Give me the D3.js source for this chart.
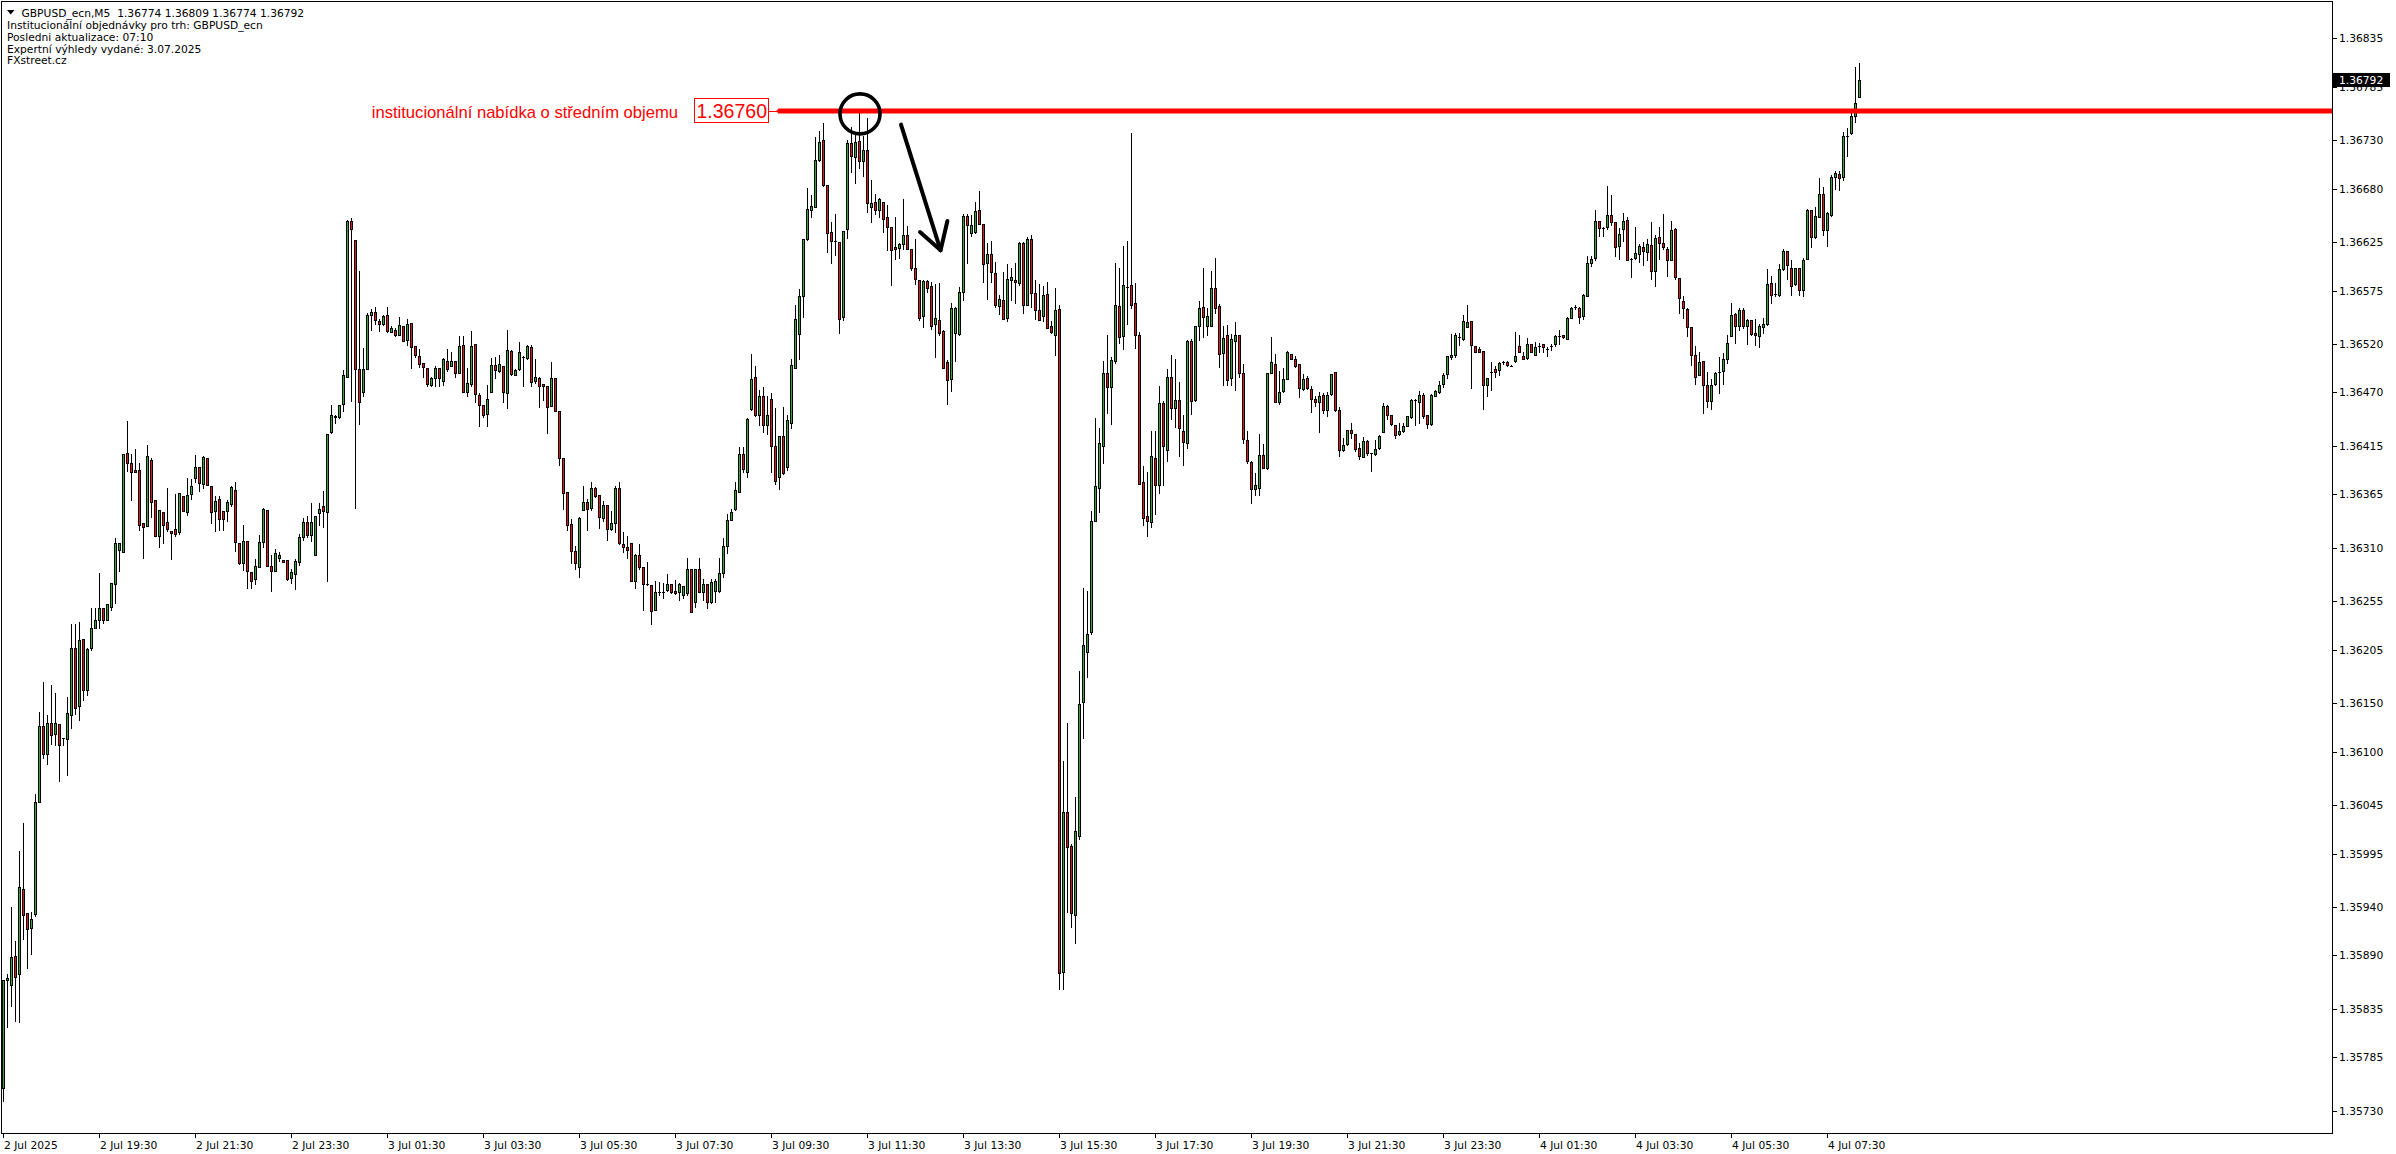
<!DOCTYPE html>
<html><head><meta charset="utf-8">
<script src="https://cdn.jsdelivr.net/npm/d3@7"></script>
<style>
html,body{margin:0;padding:0;background:#fff;overflow:hidden}
svg{display:block}
</style>
</head><body>
<svg id="chart" width="2396" height="1154"></svg>
<script>
// ---- data (M5 bars, GBPUSD) ----
const opens=[
1.35753,1.35865,1.35860,1.35889,1.35871,1.35958,1.35934,1.35918,1.35933,1.36048,
1.36126,1.36098,1.36129,1.36118,1.36128,1.36114,1.36113,1.36138,1.36207,1.36147,
1.36216,1.36163,1.36207,1.36227,1.36236,1.36248,1.36236,1.36249,1.36273,1.36308,
1.36306,1.36408,1.36397,1.36390,1.36390,1.36336,1.36332,1.36400,1.36359,1.36322,
1.36347,1.36337,1.36327,1.36329,1.36326,1.36363,1.36347,1.36365,1.36382,1.36393,
1.36376,1.36403,1.36374,1.36348,1.36360,1.36348,1.36348,1.36355,1.36370,1.36315,
1.36294,1.36317,1.36285,1.36278,1.36290,1.36316,1.36349,1.36291,1.36286,1.36300,
1.36297,1.36297,1.36279,1.36283,1.36295,1.36321,1.36337,1.36323,1.36303,1.36346,
1.36353,1.36347,1.36429,1.36445,1.36445,1.36458,1.36486,1.36647,1.36627,1.36494,
1.36470,1.36494,1.36550,1.36553,1.36544,1.36541,1.36550,1.36532,1.36534,1.36529,
1.36539,1.36524,1.36542,1.36518,1.36508,1.36500,1.36495,1.36478,1.36485,1.36495,
1.36482,1.36502,1.36497,1.36502,1.36490,1.36519,1.36471,1.36479,1.36520,1.36467,
1.36457,1.36448,1.36470,1.36498,1.36492,1.36497,1.36469,1.36513,1.36488,1.36494,
1.36507,1.36506,1.36517,1.36482,1.36485,1.36479,1.36477,1.36456,1.36485,1.36451,
1.36403,1.36367,1.36335,1.36307,1.36290,1.36349,1.36357,1.36351,1.36372,1.36364,
1.36341,1.36354,1.36329,1.36336,1.36372,1.36314,1.36311,1.36315,1.36276,1.36303,
1.36290,1.36273,1.36272,1.36246,1.36264,1.36264,1.36267,1.36273,1.36265,1.36264,
1.36261,1.36263,1.36288,1.36254,1.36288,1.36264,1.36273,1.36254,1.36266,1.36266,
1.36284,1.36312,1.36339,1.36350,1.36368,1.36407,1.36388,1.36453,1.36486,1.36447,
1.36466,1.36437,1.36463,1.36415,1.36383,1.36425,1.36393,1.36439,1.36495,1.36530,
1.36569,1.36628,1.36658,1.36661,1.36710,1.36730,1.36684,1.36635,1.36626,1.36625,
1.36548,1.36638,1.36727,1.36713,1.36729,1.36708,1.36720,1.36661,1.36666,1.36658,
1.36666,1.36651,1.36640,1.36620,1.36619,1.36623,1.36632,1.36618,1.36598,1.36586,
1.36549,1.36585,1.36580,1.36541,1.36545,1.36533,1.36501,1.36484,1.36531,1.36530,
1.36574,1.36652,1.36634,1.36635,1.36658,1.36644,1.36603,1.36613,1.36593,1.36559,
1.36565,1.36547,1.36586,1.36586,1.36583,1.36624,1.36560,1.36628,1.36573,1.36555,
1.36549,1.36571,1.36538,1.36529,1.36556,1.35873,1.36038,1.36003,1.35932,1.36013,
1.36151,1.36203,1.36223,1.36338,1.36372,1.36415,1.36490,1.36476,1.36502,1.36559,
1.36528,1.36579,1.36581,1.36562,1.36529,1.36378,1.36343,1.36337,1.36403,1.36375,
1.36459,1.36411,1.36486,1.36454,1.36462,1.36430,1.36418,1.36523,1.36462,1.36538,
1.36558,1.36539,1.36539,1.36578,1.36559,1.36511,1.36529,1.36485,1.36523,1.36529,
1.36490,1.36421,1.36398,1.36371,1.36372,1.36406,1.36392,1.36490,1.36499,1.36460,
1.36472,1.36484,1.36510,1.36505,1.36499,1.36474,1.36485,1.36474,1.36463,1.36460,
1.36467,1.36452,1.36468,1.36491,1.36452,1.36411,1.36417,1.36431,1.36427,1.36413,
1.36404,1.36420,1.36408,1.36407,1.36413,1.36429,1.36456,1.36447,1.36437,1.36427,
1.36430,1.36436,1.36445,1.36462,1.36460,1.36467,1.36447,1.36438,1.36466,1.36470,
1.36479,1.36489,1.36507,1.36509,1.36527,1.36525,1.36537,1.36544,1.36518,1.36515,
1.36513,1.36478,1.36491,1.36494,1.36493,1.36501,1.36501,1.36497,1.36502,1.36518,
1.36508,1.36506,1.36520,1.36509,1.36518,1.36520,1.36515,1.36518,1.36520,1.36528,
1.36529,1.36525,1.36547,1.36558,1.36557,1.36549,1.36569,1.36603,1.36609,1.36647,
1.36639,1.36640,1.36653,1.36646,1.36621,1.36638,1.36648,1.36608,1.36609,1.36613,
1.36620,1.36615,1.36622,1.36595,1.36630,1.36624,1.36618,1.36607,1.36638,1.36588,
1.36564,1.36556,1.36537,1.36509,1.36488,1.36502,1.36478,1.36461,1.36479,1.36491,
1.36492,1.36504,1.36528,1.36551,1.36539,1.36555,1.36538,1.36545,1.36531,1.36528,
1.36537,1.36541,1.36583,1.36571,1.36570,1.36597,1.36616,1.36598,1.36582,1.36598,
1.36576,1.36608,1.36658,1.36630,1.36651,1.36674,1.36637,1.36653,1.36692,1.36695,
1.36692,1.36734,1.36737,1.36755,1.36774];
const highs=[
1.35865,1.35871,1.35940,1.35905,1.35998,1.36027,1.35934,1.35935,1.36056,1.36141,
1.36172,1.36138,1.36169,1.36160,1.36128,1.36114,1.36156,1.36231,1.36231,1.36234,
1.36216,1.36207,1.36248,1.36248,1.36284,1.36248,1.36252,1.36274,1.36320,1.36315,
1.36407,1.36441,1.36407,1.36412,1.36397,1.36336,1.36416,1.36403,1.36359,1.36349,
1.36347,1.36372,1.36327,1.36365,1.36366,1.36363,1.36382,1.36381,1.36406,1.36393,
1.36405,1.36403,1.36374,1.36363,1.36363,1.36348,1.36359,1.36374,1.36378,1.36315,
1.36333,1.36317,1.36285,1.36298,1.36323,1.36351,1.36349,1.36303,1.36309,1.36306,
1.36297,1.36297,1.36288,1.36298,1.36324,1.36341,1.36343,1.36356,1.36343,1.36356,
1.36369,1.36427,1.36457,1.36447,1.36457,1.36493,1.36648,1.36650,1.36627,1.36595,
1.36516,1.36552,1.36556,1.36558,1.36546,1.36550,1.36558,1.36538,1.36536,1.36548,
1.36539,1.36546,1.36542,1.36518,1.36515,1.36500,1.36495,1.36486,1.36497,1.36495,
1.36506,1.36515,1.36512,1.36502,1.36528,1.36528,1.36495,1.36533,1.36520,1.36469,
1.36457,1.36478,1.36506,1.36507,1.36509,1.36497,1.36534,1.36514,1.36494,1.36522,
1.36508,1.36519,1.36519,1.36504,1.36486,1.36479,1.36477,1.36501,1.36485,1.36451,
1.36403,1.36367,1.36340,1.36312,1.36342,1.36374,1.36360,1.36378,1.36373,1.36364,
1.36358,1.36354,1.36348,1.36374,1.36378,1.36326,1.36322,1.36315,1.36304,1.36314,
1.36290,1.36295,1.36272,1.36276,1.36275,1.36274,1.36283,1.36273,1.36277,1.36274,
1.36271,1.36299,1.36288,1.36288,1.36299,1.36278,1.36273,1.36278,1.36278,1.36299,
1.36320,1.36345,1.36350,1.36378,1.36414,1.36414,1.36444,1.36510,1.36497,1.36473,
1.36476,1.36466,1.36469,1.36454,1.36425,1.36455,1.36447,1.36505,1.36560,1.36577,
1.36628,1.36681,1.36673,1.36733,1.36739,1.36748,1.36684,1.36646,1.36654,1.36625,
1.36636,1.36730,1.36744,1.36735,1.36758,1.36734,1.36753,1.36689,1.36674,1.36670,
1.36666,1.36663,1.36640,1.36651,1.36624,1.36669,1.36642,1.36618,1.36628,1.36586,
1.36586,1.36586,1.36584,1.36582,1.36583,1.36534,1.36503,1.36562,1.36558,1.36579,
1.36654,1.36654,1.36653,1.36666,1.36678,1.36644,1.36624,1.36626,1.36604,1.36570,
1.36594,1.36602,1.36598,1.36603,1.36625,1.36625,1.36630,1.36632,1.36586,1.36582,
1.36580,1.36584,1.36544,1.36578,1.36560,1.36090,1.36129,1.36005,1.36053,1.36183,
1.36269,1.36266,1.36348,1.36444,1.36433,1.36502,1.36529,1.36507,1.36603,1.36598,
1.36621,1.36626,1.36737,1.36583,1.36532,1.36394,1.36388,1.36430,1.36430,1.36477,
1.36461,1.36494,1.36509,1.36504,1.36481,1.36447,1.36524,1.36525,1.36538,1.36564,
1.36598,1.36557,1.36595,1.36609,1.36561,1.36539,1.36540,1.36530,1.36543,1.36529,
1.36499,1.36430,1.36399,1.36387,1.36427,1.36417,1.36490,1.36527,1.36510,1.36492,
1.36495,1.36513,1.36510,1.36508,1.36499,1.36489,1.36487,1.36477,1.36466,1.36470,
1.36469,1.36470,1.36489,1.36491,1.36455,1.36423,1.36431,1.36439,1.36427,1.36418,
1.36424,1.36421,1.36408,1.36421,1.36426,1.36459,1.36457,1.36447,1.36437,1.36439,
1.36439,1.36446,1.36463,1.36463,1.36472,1.36469,1.36447,1.36468,1.36473,1.36482,
1.36490,1.36508,1.36530,1.36531,1.36531,1.36550,1.36560,1.36544,1.36518,1.36517,
1.36513,1.36485,1.36501,1.36497,1.36501,1.36502,1.36502,1.36498,1.36532,1.36529,
1.36512,1.36526,1.36520,1.36522,1.36521,1.36520,1.36517,1.36520,1.36529,1.36534,
1.36529,1.36548,1.36558,1.36560,1.36558,1.36571,1.36611,1.36611,1.36658,1.36647,
1.36641,1.36683,1.36673,1.36646,1.36639,1.36655,1.36651,1.36609,1.36641,1.36623,
1.36625,1.36628,1.36646,1.36632,1.36641,1.36654,1.36620,1.36647,1.36639,1.36588,
1.36569,1.36557,1.36537,1.36518,1.36512,1.36502,1.36491,1.36484,1.36491,1.36507,
1.36511,1.36529,1.36562,1.36552,1.36557,1.36557,1.36546,1.36545,1.36546,1.36541,
1.36547,1.36597,1.36590,1.36583,1.36602,1.36618,1.36616,1.36607,1.36598,1.36598,
1.36609,1.36659,1.36658,1.36661,1.36691,1.36682,1.36656,1.36694,1.36698,1.36698,
1.36738,1.36742,1.36761,1.36805,1.36809];
const lows=[
1.35740,1.35816,1.35838,1.35823,1.35821,1.35907,1.35877,1.35892,1.35931,1.36048,
1.36093,1.36087,1.36108,1.36107,1.36070,1.36107,1.36076,1.36124,1.36139,1.36133,
1.36153,1.36158,1.36205,1.36227,1.36227,1.36233,1.36236,1.36246,1.36253,1.36286,
1.36306,1.36389,1.36359,1.36388,1.36328,1.36300,1.36332,1.36342,1.36322,1.36311,
1.36315,1.36327,1.36298,1.36322,1.36324,1.36348,1.36344,1.36360,1.36378,1.36369,
1.36372,1.36375,1.36336,1.36327,1.36328,1.36328,1.36338,1.36353,1.36307,1.36293,
1.36287,1.36269,1.36269,1.36273,1.36290,1.36311,1.36291,1.36266,1.36286,1.36296,
1.36295,1.36277,1.36274,1.36268,1.36292,1.36318,1.36321,1.36317,1.36303,1.36333,
1.36331,1.36276,1.36428,1.36439,1.36444,1.36451,1.36486,1.36461,1.36351,1.36438,
1.36466,1.36494,1.36534,1.36541,1.36533,1.36540,1.36532,1.36532,1.36528,1.36529,
1.36523,1.36519,1.36495,1.36507,1.36496,1.36486,1.36477,1.36477,1.36477,1.36477,
1.36478,1.36492,1.36497,1.36486,1.36490,1.36470,1.36466,1.36477,1.36460,1.36436,
1.36445,1.36435,1.36470,1.36485,1.36491,1.36460,1.36454,1.36488,1.36488,1.36493,
1.36477,1.36504,1.36477,1.36480,1.36455,1.36462,1.36428,1.36456,1.36451,1.36395,
1.36350,1.36328,1.36294,1.36288,1.36280,1.36349,1.36328,1.36349,1.36362,1.36330,
1.36338,1.36318,1.36328,1.36326,1.36314,1.36306,1.36299,1.36276,1.36269,1.36288,
1.36246,1.36272,1.36232,1.36246,1.36261,1.36258,1.36266,1.36263,1.36262,1.36256,
1.36258,1.36261,1.36244,1.36249,1.36264,1.36256,1.36248,1.36253,1.36254,1.36264,
1.36280,1.36305,1.36339,1.36349,1.36368,1.36388,1.36383,1.36452,1.36446,1.36437,
1.36429,1.36427,1.36388,1.36376,1.36371,1.36386,1.36390,1.36433,1.36495,1.36504,
1.36548,1.36627,1.36651,1.36661,1.36709,1.36683,1.36615,1.36603,1.36612,1.36531,
1.36545,1.36629,1.36697,1.36686,1.36701,1.36693,1.36656,1.36646,1.36654,1.36651,
1.36635,1.36617,1.36581,1.36608,1.36609,1.36618,1.36618,1.36596,1.36582,1.36545,
1.36537,1.36574,1.36535,1.36507,1.36529,1.36495,1.36458,1.36472,1.36502,1.36529,
1.36565,1.36603,1.36631,1.36634,1.36644,1.36584,1.36566,1.36584,1.36558,1.36551,
1.36546,1.36544,1.36565,1.36562,1.36581,1.36552,1.36560,1.36558,1.36546,1.36545,
1.36544,1.36536,1.36531,1.36509,1.35855,1.35855,1.35935,1.35919,1.35903,1.36010,
1.36114,1.36177,1.36221,1.36338,1.36347,1.36397,1.36449,1.36438,1.36500,1.36521,
1.36515,1.36541,1.36557,1.36516,1.36376,1.36333,1.36322,1.36331,1.36345,1.36366,
1.36375,1.36399,1.36443,1.36434,1.36405,1.36395,1.36413,1.36448,1.36461,1.36524,
1.36527,1.36529,1.36538,1.36552,1.36496,1.36478,1.36478,1.36478,1.36473,1.36486,
1.36418,1.36397,1.36356,1.36364,1.36364,1.36392,1.36391,1.36490,1.36460,1.36458,
1.36471,1.36484,1.36504,1.36496,1.36465,1.36473,1.36474,1.36450,1.36456,1.36429,
1.36449,1.36446,1.36467,1.36451,1.36405,1.36410,1.36416,1.36423,1.36410,1.36401,
1.36404,1.36406,1.36389,1.36406,1.36412,1.36429,1.36443,1.36437,1.36423,1.36426,
1.36429,1.36435,1.36444,1.36437,1.36439,1.36444,1.36433,1.36437,1.36466,1.36469,
1.36476,1.36485,1.36505,1.36507,1.36519,1.36524,1.36537,1.36475,1.36512,1.36512,
1.36453,1.36466,1.36473,1.36486,1.36488,1.36499,1.36497,1.36497,1.36501,1.36512,
1.36504,1.36505,1.36512,1.36509,1.36512,1.36512,1.36508,1.36514,1.36518,1.36520,
1.36526,1.36525,1.36547,1.36556,1.36542,1.36546,1.36569,1.36600,1.36606,1.36631,
1.36631,1.36638,1.36643,1.36611,1.36608,1.36626,1.36607,1.36589,1.36608,1.36604,
1.36601,1.36606,1.36587,1.36580,1.36608,1.36618,1.36590,1.36606,1.36587,1.36552,
1.36547,1.36528,1.36498,1.36479,1.36488,1.36449,1.36455,1.36453,1.36478,1.36469,
1.36479,1.36500,1.36528,1.36521,1.36534,1.36536,1.36520,1.36529,1.36519,1.36517,
1.36531,1.36540,1.36562,1.36569,1.36569,1.36596,1.36587,1.36570,1.36581,1.36570,
1.36569,1.36608,1.36620,1.36629,1.36651,1.36632,1.36621,1.36652,1.36680,1.36679,
1.36689,1.36714,1.36736,1.36749,1.36774];
const closes=[
1.35865,1.35867,1.35888,1.35868,1.35961,1.35932,1.35917,1.35928,1.36048,1.36126,
1.36098,1.36130,1.36117,1.36129,1.36107,1.36114,1.36140,1.36207,1.36145,1.36215,
1.36163,1.36206,1.36227,1.36236,1.36248,1.36236,1.36252,1.36274,1.36315,1.36315,
1.36407,1.36397,1.36388,1.36388,1.36334,1.36331,1.36405,1.36357,1.36322,1.36349,
1.36334,1.36329,1.36325,1.36324,1.36366,1.36348,1.36364,1.36374,1.36393,1.36377,
1.36404,1.36375,1.36347,1.36358,1.36340,1.36340,1.36357,1.36373,1.36316,1.36294,
1.36317,1.36286,1.36276,1.36291,1.36316,1.36350,1.36291,1.36286,1.36305,1.36303,
1.36295,1.36278,1.36285,1.36296,1.36321,1.36337,1.36323,1.36337,1.36343,1.36350,
1.36348,1.36427,1.36447,1.36446,1.36457,1.36488,1.36647,1.36638,1.36494,1.36460,
1.36494,1.36550,1.36553,1.36545,1.36541,1.36549,1.36533,1.36536,1.36529,1.36540,
1.36523,1.36541,1.36517,1.36509,1.36499,1.36496,1.36479,1.36485,1.36495,1.36485,
1.36505,1.36494,1.36502,1.36490,1.36518,1.36470,1.36480,1.36518,1.36468,1.36457,
1.36447,1.36463,1.36498,1.36493,1.36499,1.36470,1.36514,1.36489,1.36493,1.36512,
1.36507,1.36518,1.36481,1.36486,1.36477,1.36477,1.36455,1.36485,1.36451,1.36403,
1.36366,1.36334,1.36307,1.36294,1.36341,1.36357,1.36350,1.36372,1.36363,1.36342,
1.36354,1.36329,1.36336,1.36372,1.36315,1.36311,1.36308,1.36276,1.36303,1.36290,
1.36273,1.36273,1.36245,1.36264,1.36264,1.36264,1.36273,1.36264,1.36263,1.36273,
1.36271,1.36288,1.36244,1.36288,1.36264,1.36273,1.36254,1.36275,1.36276,1.36284,
1.36312,1.36339,1.36347,1.36370,1.36407,1.36391,1.36443,1.36484,1.36447,1.36466,
1.36437,1.36447,1.36415,1.36379,1.36425,1.36387,1.36442,1.36498,1.36546,1.36569,
1.36628,1.36659,1.36662,1.36710,1.36728,1.36684,1.36634,1.36626,1.36626,1.36546,
1.36636,1.36727,1.36714,1.36728,1.36708,1.36720,1.36665,1.36665,1.36658,1.36669,
1.36649,1.36640,1.36617,1.36618,1.36623,1.36632,1.36618,1.36598,1.36587,1.36547,
1.36585,1.36578,1.36538,1.36547,1.36531,1.36495,1.36483,1.36557,1.36557,1.36574,
1.36652,1.36643,1.36643,1.36657,1.36644,1.36602,1.36613,1.36594,1.36560,1.36566,
1.36546,1.36587,1.36589,1.36584,1.36624,1.36560,1.36628,1.36572,1.36555,1.36545,
1.36570,1.36536,1.36532,1.36555,1.35872,1.36038,1.36002,1.35934,1.36018,1.36149,
1.36210,1.36221,1.36338,1.36374,1.36418,1.36490,1.36476,1.36503,1.36560,1.36527,
1.36581,1.36579,1.36560,1.36529,1.36376,1.36341,1.36338,1.36405,1.36375,1.36459,
1.36415,1.36486,1.36454,1.36462,1.36433,1.36419,1.36523,1.36461,1.36538,1.36557,
1.36548,1.36549,1.36578,1.36557,1.36510,1.36526,1.36483,1.36525,1.36529,1.36490,
1.36422,1.36399,1.36371,1.36375,1.36406,1.36392,1.36490,1.36501,1.36460,1.36470,
1.36484,1.36512,1.36505,1.36497,1.36475,1.36484,1.36475,1.36463,1.36460,1.36466,
1.36452,1.36467,1.36489,1.36452,1.36411,1.36416,1.36431,1.36428,1.36412,1.36405,
1.36420,1.36408,1.36408,1.36412,1.36425,1.36456,1.36447,1.36438,1.36426,1.36430,
1.36436,1.36446,1.36462,1.36462,1.36467,1.36446,1.36438,1.36467,1.36472,1.36478,
1.36488,1.36508,1.36509,1.36529,1.36527,1.36544,1.36543,1.36519,1.36512,1.36512,
1.36478,1.36485,1.36491,1.36491,1.36500,1.36501,1.36498,1.36497,1.36508,1.36512,
1.36505,1.36520,1.36512,1.36517,1.36518,1.36517,1.36515,1.36518,1.36528,1.36528,
1.36527,1.36547,1.36557,1.36558,1.36548,1.36570,1.36603,1.36608,1.36647,1.36639,
1.36639,1.36653,1.36646,1.36620,1.36633,1.36647,1.36607,1.36608,1.36614,1.36621,
1.36616,1.36623,1.36595,1.36629,1.36624,1.36620,1.36607,1.36637,1.36589,1.36567,
1.36557,1.36537,1.36509,1.36486,1.36501,1.36478,1.36461,1.36478,1.36490,1.36491,
1.36504,1.36521,1.36550,1.36539,1.36555,1.36539,1.36545,1.36530,1.36529,1.36539,
1.36541,1.36582,1.36570,1.36571,1.36597,1.36616,1.36601,1.36580,1.36598,1.36576,
1.36606,1.36658,1.36630,1.36652,1.36675,1.36637,1.36655,1.36692,1.36696,1.36691,
1.36734,1.36734,1.36755,1.36768,1.36792];

const priceTicks=[1.36835,1.36785,1.36730,1.36680,1.36625,1.36575,1.36520,1.36470,1.36415,1.36365,1.36310,
  1.36255,1.36205,1.36150,1.36100,1.36045,1.35995,1.35940,1.35890,1.35835,1.35785,1.35730];
const timeTickBars=[0,24,48,72,96,120,144,168,192,216,240,264,288,312,336,360,384,408,432,456];
const timeTickLabels=["2 Jul 2025","2 Jul 19:30","2 Jul 21:30","2 Jul 23:30","3 Jul 01:30","3 Jul 03:30",
  "3 Jul 05:30","3 Jul 07:30","3 Jul 09:30","3 Jul 11:30","3 Jul 13:30","3 Jul 15:30","3 Jul 17:30",
  "3 Jul 19:30","3 Jul 21:30","3 Jul 23:30","4 Jul 01:30","4 Jul 03:30","4 Jul 05:30","4 Jul 07:30"];
const headerTitle="GBPUSD_ecn,M5  1.36774 1.36809 1.36774 1.36792";
const headerLines=["Institucionální objednávky pro trh: GBPUSD_ecn","Posledni aktualizace: 07:10",
  "Expertní výhledy vydané: 3.07.2025","FXstreet.cz"];
const levelPrice=1.36760;
const levelText="institucionální nabídka o středním objemu";
const lastPrice=1.36792;
// annotation anchors in (bar index, price)
const circleAnchor=[214.25,1.36757];
const arrowShaft=[[224.5,1.36746],[234.4,1.366165]];
const arrowHead=[[229.25,1.366353],[236.1,1.366467]];

// ---- layout ----
const W=2396,H=1154;
const plotL=1, plotR=2332, plotT=1, plotB=1133;
const FONT='"DejaVu Sans", Verdana, sans-serif';
const GREEN="#34a834", RED="#e4141b";

const svg=d3.select("#chart");
const x=d3.scaleLinear().domain([0,464]).range([3,1859]);
const y=d3.scaleLinear().domain([1.35730,1.36835]).range([1110.8,38.2]);

const bars=d3.range(opens.length).map(i=>({i,o:opens[i],h:highs[i],l:lows[i],c:closes[i]}));

const gC=svg.append("g").attr("shape-rendering","crispEdges");
// wicks
gC.selectAll("line.w").data(bars).join("line").attr("class","w")
  .attr("x1",d=>Math.round(x(d.i))+0.5).attr("x2",d=>Math.round(x(d.i))+0.5)
  .attr("y1",d=>Math.round(y(Math.max(d.h,d.o,d.c))))
  .attr("y2",d=>Math.round(y(Math.min(d.l,d.o,d.c)))+1)
  .attr("stroke","#000").attr("stroke-width",1);
// bodies
bars.forEach(d=>{
  const cx=Math.round(x(d.i));
  const t=Math.round(y(Math.max(d.o,d.c))), b=Math.round(y(Math.min(d.o,d.c)));
  if(b-t<1){
    gC.append("line").attr("x1",cx-1).attr("x2",cx+2).attr("y1",t+0.5).attr("y2",t+0.5)
      .attr("stroke","#000").attr("stroke-width",1);
  } else {
    gC.append("rect").attr("x",cx-0.5).attr("y",t+0.5).attr("width",2).attr("height",b-t)
      .attr("fill",d.c>d.o?GREEN:RED).attr("stroke","#000").attr("stroke-width",1);
  }
});

// level line + label
const ly=y(levelPrice);
const gL=svg.append("g");
const boxRightX=x(191.5);
const vt=gL.append("text").attr("x",boxRightX-2).attr("y",ly).attr("dy","0.36em")
  .attr("text-anchor","end").attr("font-family",'"Liberation Sans", Arial, sans-serif')
  .attr("font-size",19.5).attr("fill","#ff0000").text(levelPrice.toFixed(5));
const vb=vt.node().getBBox();
gL.append("rect").attr("x",Math.round(vb.x)-2.5).attr("y",Math.round(ly)-12.5)
  .attr("width",Math.round(boxRightX)-Math.round(vb.x)+2).attr("height",24)
  .attr("fill","none").attr("stroke","#ff0000").attr("stroke-width",1).attr("shape-rendering","crispEdges");
gL.append("line").attr("x1",boxRightX).attr("x2",x(193.75)).attr("y1",Math.round(ly)+0.5).attr("y2",Math.round(ly)+0.5)
  .attr("stroke","#ff0000").attr("stroke-width",1);
gL.append("circle").attr("cx",x(193.75)).attr("cy",ly).attr("r",1.6).attr("fill","#ff0000");
gL.append("line").attr("x1",x(193.75)).attr("x2",plotR).attr("y1",ly).attr("y2",ly)
  .attr("stroke","#ff0000").attr("stroke-width",5);
gL.append("text").attr("x",x(168.75)).attr("y",ly+1).attr("dy","0.36em").attr("text-anchor","end")
  .attr("font-family",'"Liberation Sans", Arial, sans-serif').attr("font-size",16.6)
  .attr("fill","#ff0000").text(levelText);

// circle + arrow annotations
svg.append("circle").attr("cx",x(circleAnchor[0])).attr("cy",y(circleAnchor[1])).attr("r",20)
  .attr("fill","none").attr("stroke","#000").attr("stroke-width",3.6);
const line=d3.line().x(d=>x(d[0])).y(d=>y(d[1]));
svg.append("path").attr("d",line(arrowShaft)).attr("stroke","#000").attr("stroke-width",4)
  .attr("stroke-linecap","round").attr("fill","none");
svg.append("path").attr("d",line([arrowHead[0],arrowShaft[1],arrowHead[1]])).attr("stroke","#000")
  .attr("stroke-width",4).attr("stroke-linecap","round").attr("stroke-linejoin","round").attr("fill","none");

// frame
svg.append("rect").attr("x",plotL+0.5).attr("y",plotT+0.5).attr("width",plotR-plotL).attr("height",plotB-plotT)
  .attr("fill","none").attr("stroke","#000").attr("stroke-width",1).attr("shape-rendering","crispEdges");

// price axis
const gY=svg.append("g").attr("font-family",FONT).attr("font-size",10.7);
priceTicks.forEach(p=>{
  const yy=Math.round(y(p));
  gY.append("line").attr("x1",plotR+1).attr("x2",plotR+5).attr("y1",yy+0.5).attr("y2",yy+0.5)
    .attr("stroke","#000").attr("shape-rendering","crispEdges");
  gY.append("text").attr("x",plotR+7).attr("y",yy).attr("dy","0.36em").attr("fill","#000").text(p.toFixed(5));
});
// current price tag
const lpY=Math.round(y(lastPrice));
gY.append("rect").attr("x",plotR+1).attr("y",lpY-7).attr("width",57).attr("height",14).attr("fill","#000");
gY.append("text").attr("x",plotR+7).attr("y",lpY).attr("dy","0.36em").attr("fill","#fff").text(lastPrice.toFixed(5));

// time axis
const gX=svg.append("g").attr("font-family",FONT).attr("font-size",10.7);
timeTickBars.forEach((b,k)=>{
  const xx=Math.round(x(b));
  gX.append("line").attr("x1",xx+0.5).attr("x2",xx+0.5).attr("y1",plotB+1).attr("y2",plotB+5)
    .attr("stroke","#000").attr("shape-rendering","crispEdges");
  gX.append("text").attr("x",xx+1).attr("y",plotB+12).attr("dy","0.36em").attr("fill","#000").text(timeTickLabels[k]);
});

// header
const gH=svg.append("g").attr("font-family",FONT).attr("font-size",10.7).attr("fill","#000");
gH.append("path").attr("d","M7,10 L14.5,10 L10.75,14.5 Z").attr("fill","#000");
gH.append("text").attr("x",21.5).attr("y",17).attr("xml:space","preserve").style("white-space","pre").text(headerTitle);
headerLines.forEach((t,k)=>gH.append("text").attr("x",7).attr("y",29+k*11.8).text(t));
</script>
</body></html>
